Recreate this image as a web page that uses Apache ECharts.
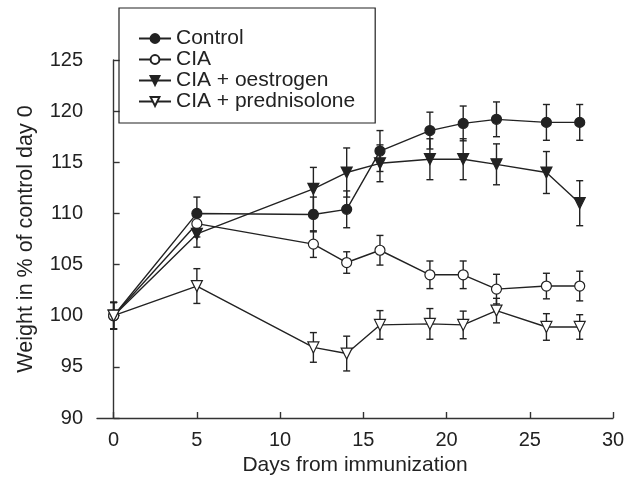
<!DOCTYPE html>
<html>
<head>
<meta charset="utf-8">
<script src="https://cdn.jsdelivr.net/npm/echarts@6/dist/echarts.min.js"></script>
<style>
  html, body { margin: 0; padding: 0; background: #fff; }
  #chart { width: 632px; height: 488px; }
</style>
</head>
<body>
<div id="chart"></div>
<script>
var days = [0, 5, 12, 14, 16, 19, 21, 23, 26, 28];
var xTicks = [0, 5, 10, 15, 20, 25, 30];

var controlMean = [100, 110.0, 109.9, 110.4, 116.1, 118.1, 118.8, 119.2, 118.9, 118.9];
var controlErr  = [1.3, 1.6, 1.7, 1.8, 2.0, 1.8, 1.7, 1.7, 1.75, 1.75];
var ciaMean = [100, 109.0, 107.0, 105.2, 106.4, 104.0, 104.0, 102.6, 102.9, 102.9];
var ciaErr  = [1.3, 1.3, 1.3, 1.05, 1.45, 1.35, 1.35, 1.45, 1.25, 1.45];
var oestMean = [100, 108.0, 112.4, 114.0, 114.9, 115.3, 115.3, 114.8, 114.0, 111.0];
var oestErr  = [1.3, 1.3, 2.1, 2.4, 1.8, 2.0, 2.0, 2.0, 2.05, 2.2];
var predMean = [100, 102.9, 96.9, 96.3, 99.1, 99.2, 99.1, 100.5, 98.9, 98.9];
var predErr  = [1.3, 1.7, 1.45, 1.7, 1.4, 1.5, 1.35, 1.2, 1.3, 1.2];

var names = ['Control', 'CIA', 'CIA + oestrogen', 'CIA + prednisolone'];

var ink = '#222';
var font = 'Liberation Sans, Arial, Helvetica, sans-serif';

function pairs(mean) {
  return days.map(function(d, i) { return [d, mean[i]]; });
}
function bars(mean, err) {
  return days.map(function(d, i) { return [d, mean[i] - err[i], mean[i] + err[i]]; });
}

// vertical error bar with caps, placed through the axes
function renderErr(params, api) {
  var x = api.value(0);
  var top = api.coord([x, api.value(2)]);
  var bot = api.coord([x, api.value(1)]);
  var w = 3.5;
  var st = { stroke: ink, lineWidth: 1.4 };
  return {
    type: 'group',
    children: [
      { type: 'line', shape: { x1: top[0], y1: top[1], x2: bot[0], y2: bot[1] }, style: st },
      { type: 'line', shape: { x1: top[0] - w, y1: top[1], x2: top[0] + w, y2: top[1] }, style: st },
      { type: 'line', shape: { x1: bot[0] - w, y1: bot[1], x2: bot[0] + w, y2: bot[1] }, style: st }
    ]
  };
}

function errSeries(mean, err) {
  return {
    type: 'custom',
    renderItem: renderErr,
    data: bars(mean, err),
    encode: { x: 0, y: [1, 2] },
    z: 1,
    silent: true,
    animation: false
  };
}

function lineSeries(name, mean, symbol, fill, rotate, size) {
  return {
    name: name,
    type: 'line',
    data: pairs(mean),
    symbol: symbol,
    symbolSize: size,
    symbolRotate: rotate,
    showAllSymbol: true,
    lineStyle: { color: ink, width: 1.4 },
    itemStyle: { color: fill, borderColor: ink, borderWidth: 1.2 },
    z: 3,
    animation: false
  };
}

var chart = echarts.init(document.getElementById('chart'), null, { renderer: 'canvas' });

chart.setOption({
  backgroundColor: '#fff',
  textStyle: { fontFamily: font },
  grid: { left: 97, right: 19, top: 60, bottom: 70 },
  legend: {
    data: names,
    orient: 'vertical',
    left: 119,
    top: 8,
    padding: [20, 20, 11, 19],
    itemGap: 0,
    itemWidth: 32,
    itemHeight: 11,
    borderColor: '#222',
    borderWidth: 1.2,
    textStyle: { color: ink, fontSize: 21, fontFamily: font, lineHeight: 21 }
  },
  xAxis: {
    type: 'value',
    min: -1,
    max: 30,
    name: 'Days from immunization',
    nameLocation: 'middle',
    nameGap: 37,
    nameTextStyle: { color: ink, fontSize: 21, fontFamily: font },
    axisLine: { lineStyle: { color: '#333', width: 1.4 } },
    axisTick: { inside: true, length: 6, customValues: xTicks, lineStyle: { color: '#333', width: 1.4 } },
    axisLabel: { customValues: xTicks, color: ink, fontSize: 20, margin: 12, fontFamily: font },
    splitLine: { show: false }
  },
  yAxis: {
    type: 'value',
    min: 90,
    max: 125,
    interval: 5,
    name: 'Weight in % of control day 0',
    nameLocation: 'middle',
    nameGap: 60,
    nameTextStyle: { color: ink, fontSize: 21.5, fontFamily: font },
    axisLine: { show: true, lineStyle: { color: '#333', width: 1.4 } },
    axisTick: { show: true, inside: true, length: 6, lineStyle: { color: '#333', width: 1.4 } },
    axisLabel: { color: ink, fontSize: 20, margin: 14, fontFamily: font },
    splitLine: { show: false }
  },
  series: [
    errSeries(controlMean, controlErr),
    errSeries(ciaMean, ciaErr),
    errSeries(oestMean, oestErr),
    errSeries(predMean, predErr),
    lineSeries('Control', controlMean, 'circle', ink, 0, 10),
    lineSeries('CIA', ciaMean, 'circle', '#fff', 0, 10),
    lineSeries('CIA + oestrogen', oestMean, 'triangle', ink, 180, 11),
    lineSeries('CIA + prednisolone', predMean, 'triangle', '#fff', 180, 11)
  ]
});
</script>
</body>
</html>
